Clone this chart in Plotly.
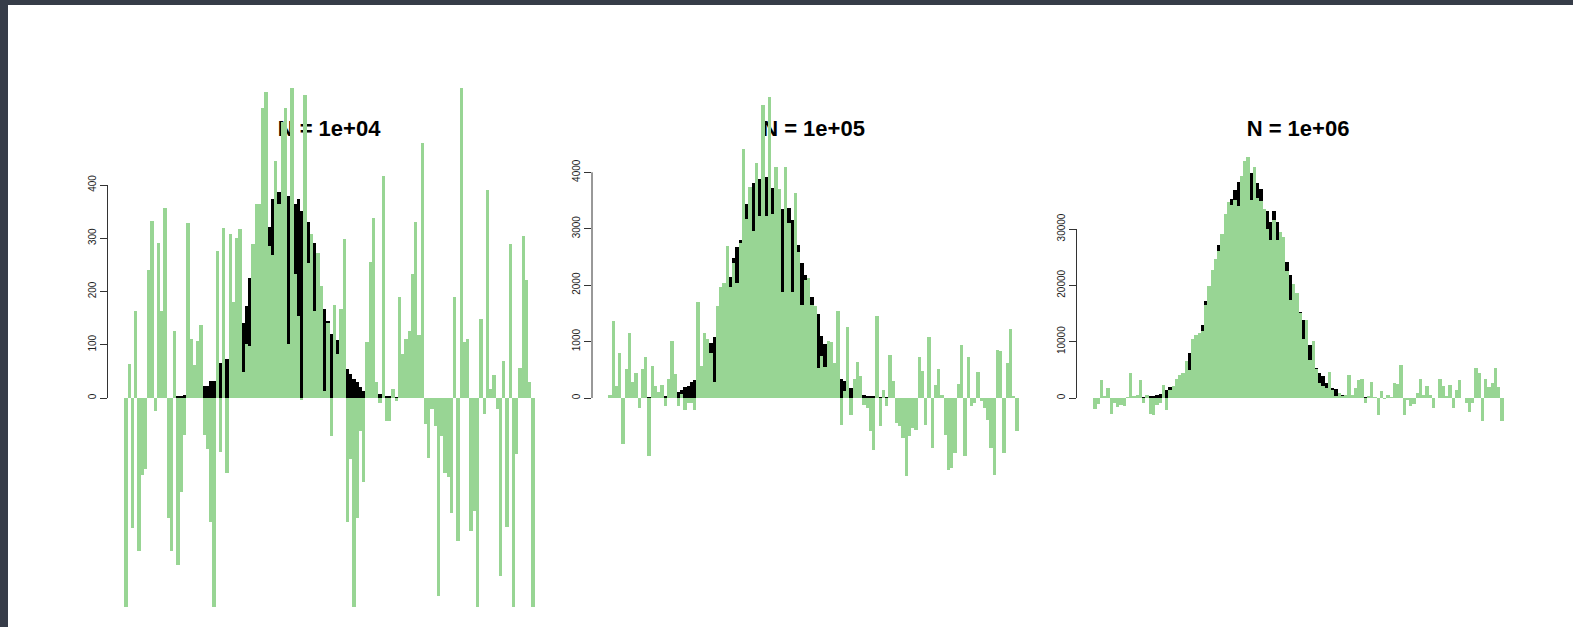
import plotly.graph_objects as go

# ---------------- data ----------------
bins = list(range(126))

titles = ["N = 1e+04", "N = 1e+05", "N = 1e+06"]

ticks_1e4 = [0, 100, 200, 300, 400]
ticks_1e5 = [0, 1000, 2000, 3000, 4000]
ticks_1e6 = [0, 10000, 20000, 30000]

true_1e4 = [0] * 16 + [
    3, 3, 5, 7, 9, 11, 14, 18, 23, 23,
    31, 32, 45, 66, 70, 74, 90, 105, 118, 130,
    141, 172, 226, 250, 270, 290, 305, 315, 321, 374,
    360, 387, 376, 382, 380, 372, 364, 374, 351, 342,
    331, 300, 292, 250, 205, 168, 145, 121, 115, 108,
    90, 72, 54, 46, 36, 30, 20, 13, 10, 8,
    6, 5, 8, 4, 3, 2, 1, 1] + [0] * 42

noisy_1e4 = [
    -400, 64, -244, 163, -287, -144, -133, 241, 333, -24,
    292, 163, 357, -225, -287, 125, -313, -177, -69, 328,
    111, 62, 107, 137, -69, -96, -233, -400, 276, -102,
    320, -140, 308, 180, 300, 318, 49, 102, 98, 289,
    364, 364, 544, 574, 285, 269, 446, 364, 518, 544,
    102, 590, 233, 154, -3, 569, 253, 308, 164, 272,
    210, 13, 140, -72, 174, 82, 167, 298, -233, -115,
    -400, -226, -62, -157, 105, 256, 338, 30, -10, 417,
    -44, -44, 16, -5, 190, 82, 111, 125, 233, 331,
    118, 479, -49, -113, -20, -52, -371, -72, -141, -148,
    -216, 190, -269, 588, 105, 111, -249, -213, -400, 148,
    -30, 390, 16, 44, -21, -335, 69, -243, 289, -400,
    -105, 56, 305, 221, 30, -397]

true_1e5 = [0] * 11 + [
    2, 3, 5, 8, 12, 20, 30, 45, 60,
    80, 100, 148, 190, 218, 277, 325, 420, 520, 650,
    800, 973, 1080, 1250, 1450, 1650, 1900, 2153, 2480, 2684,
    2802, 3150, 3440, 3600, 3817, 3850, 3876, 3900, 3923, 3900,
    3717, 3700, 3550, 3345, 3400, 3363, 3156, 2950, 2714, 2401,
    2183, 2000, 1788, 1600, 1492, 1091, 961, 820, 680, 560,
    440, 336, 295, 230, 177, 130, 95, 59, 59, 40,
    30, 20, 14, 10, 6, 4, 2] + [0] * 39

noisy_1e5 = [
    59, 1370, 206, 800, -808, 513, 1150, 277, 442, -177,
    513, 720, -1020, 572, 218, 100, 236, -148, 336, 1003,
    425, -136, 77, -218, -88, -88, -218, 1705, 560, 1150,
    1044, 796, 277, 1622, 1976, 2047, 2696, 1965, 2390, 2047,
    2755, 4407, 3168, 3735, 2968, 4171, 3227, 5192, 3227, 5328,
    3263, 4100, 3700, 1870, 4088, 3100, 1870, 3640, 2596, 1652,
    2094, 2124, 1652, 1622, 531, 737, 549, 1003, 985, 620,
    1546, -472, 118, 1250, -295, 336, 631, 395, -118, -177,
    -590, -915, 1446, -502, 148, -148, 767, 295, -443, -502,
    -708, -1387, -679, -531, -560, 720, 472, -472, 1080, -885,
    236, 513, 59, -649, -1268, -1239, -973, 254, 944, -1032,
    726, -148, -88, 454, -59, -177, -383, -885, -1357, 855,
    826, -973, 620, 1221, 20, -590]

true_1e6 = [0] * 10 + [
    20, 30, 50, 70, 100, 140, 190, 250, 400, 550,
    768, 900, 1358, 1950, 2100, 2600, 3300, 4300, 5800, 7973,
    8500, 10000, 11000, 12875, 17245, 18500, 21000, 24000, 27108, 28500,
    31000, 33500, 35260, 36913, 38390, 38800, 39500, 40500, 39866, 40000,
    38213, 37031, 33000, 33251, 31302, 33250, 31300, 28000, 26000, 24215,
    21850, 19000, 17000, 15180, 13880, 11500, 9450, 7500, 5315, 4430,
    3840, 2658, 2200, 1772, 1595, 590, 500, 300, 200, 120,
    80, 50, 30, 20, 10] + [0] * 41

noisy_1e6 = [
    -1950, -1063, 3248, 200, 1772, -2835, -886, -1595, -1300, -1476,
    100, 4430, 413, 590, 3130, -886, 472, -2776, -2953, -1300,
    -886, 2244, -2185, 1500, 2067, 3366, 4134, 4430, 6497, 5020,
    10453, 11221, 11517, 11812, 16537, 19962, 22738, 24628, 26164, 29058,
    32660, 34846, 34255, 35141, 34000, 39390, 42109, 42700, 35141, 41000,
    35500, 35000, 33487, 30000, 28053, 31600, 28050, 29530, 28525, 22620,
    17420, 20258, 18604, 15060, 10453, 13880, 6790, 10040, 5140, 2658,
    2185, 1772, 4548, 1476, 300, 900, 295, 590, 4016, 590,
    1772, 3248, 3366, -886, 200, 2776, 100, -2953, 1181, -177,
    590, 50, 2658, 2480, 5906, -2953, -295, -1358, -1004, 886,
    3366, 590, 2185, 590, -1772, 0, 3366, 2185, 295, 2362,
    -1772, 1358, 3130, 0, -886, -2540, -886, 5256, 4430, -4134,
    3366, 1949, 2658, 5315, 1949, -4134]

panels = [
    (titles[0], true_1e4, noisy_1e4, ticks_1e4),
    (titles[1], true_1e5, noisy_1e5, ticks_1e5),
    (titles[2], true_1e6, noisy_1e6, ticks_1e6),
]

# ---------------- layout geometry (pixels) ----------------
W, H = 1573, 627
GREEN = "#98D594"
DARK = "#363c48"
left_px = [107.5, 592.0, 1076.5]
width_px = 443.0
top_px, bot_px = 88.0, 607.0
zero_px = 398.0
# pixels per data unit for each panel's y axis
px_per_unit = [213.0 / 400, 225.7 / 4000, 169.0 / 30000]
title_y_px = 130.5

fig = go.Figure()
layout_axes = {}
shapes = [
    dict(type="rect", xref="paper", yref="paper", x0=8 / W, x1=1, y0=0, y1=1 - 5 / H,
         fillcolor="white", line=dict(width=0), layer="below"),
]

nb = len(bins)
pad = 0.04 * nb
for k, (title, tr, ns, tv) in enumerate(panels):
    bx = "x" if k == 0 else f"x{k + 1}"
    by = "y" if k == 0 else f"y{k + 1}"
    ox = f"x{k + 4}"
    oy = f"y{k + 4}"
    dom_x = [left_px[k] / W, (left_px[k] + width_px) / W]
    dom_y = [1 - bot_px / H, 1 - top_px / H]
    ppu = px_per_unit[k]
    yr = [-(bot_px - zero_px) / ppu, (zero_px - top_px) / ppu]

    # title text in the base subplot (drawn beneath the bars)
    fig.add_trace(go.Scatter(
        x=[0.5], y=[(bot_px - title_y_px) / (bot_px - top_px)],
        text=[f"<b>{title}</b>"], mode="text",
        textfont=dict(size=22, color="black", family="Liberation Sans, Arial"),
        xaxis=bx, yaxis=by, hoverinfo="skip", showlegend=False))
    # true counts (black) then noisy counts (green) on top
    fig.add_trace(go.Bar(x=bins, y=tr, width=1.0, marker=dict(color="black", line=dict(width=0)),
                         xaxis=ox, yaxis=oy, showlegend=False, hoverinfo="skip"))
    fig.add_trace(go.Bar(x=bins, y=ns, width=1.0, marker=dict(color=GREEN, line=dict(width=0)),
                         xaxis=ox, yaxis=oy, showlegend=False, hoverinfo="skip"))

    bxk = "xaxis" if k == 0 else f"xaxis{k + 1}"
    byk = "yaxis" if k == 0 else f"yaxis{k + 1}"
    layout_axes[bxk] = dict(domain=dom_x, range=[0, 1], visible=False, anchor=by, fixedrange=True)
    layout_axes[byk] = dict(domain=dom_y, range=[0, 1], visible=False, anchor=bx, fixedrange=True)
    layout_axes[f"xaxis{k + 4}"] = dict(overlaying=bx, range=[-0.5 - pad, nb - 0.5 + pad],
                                       visible=False, anchor=oy, fixedrange=True)
    layout_axes[f"yaxis{k + 4}"] = dict(
        overlaying=by, anchor=ox, side="left", range=yr, tickmode="array", tickvals=tv,
        ticktext=[str(v) for v in tv], ticks="outside", ticklen=7, tickwidth=1,
        tickcolor="#333333", tickangle=-90, showgrid=False, zeroline=False, showline=False,
        tickfont=dict(size=10, color="#222222", family="Liberation Sans, Arial"),
        fixedrange=True)
    shapes.append(dict(type="line", xref=f"{ox} domain", yref=oy, x0=0, x1=0,
                       y0=tv[0], y1=tv[-1], line=dict(color="#333333", width=1)))

fig.update_layout(
    width=W, height=H, margin=dict(l=0, r=0, t=0, b=0),
    paper_bgcolor=DARK, plot_bgcolor="rgba(0,0,0,0)",
    barmode="overlay", bargap=0, showlegend=False,
    shapes=shapes, **layout_axes)

page_js = ("document.body.style.margin='0';document.body.style.padding='0';"
           "document.body.style.overflow='hidden';"
           "document.body.style.background='" + DARK + "';")

fig.write_html("out.html", post_script=page_js, config={"displayModeBar": False})
